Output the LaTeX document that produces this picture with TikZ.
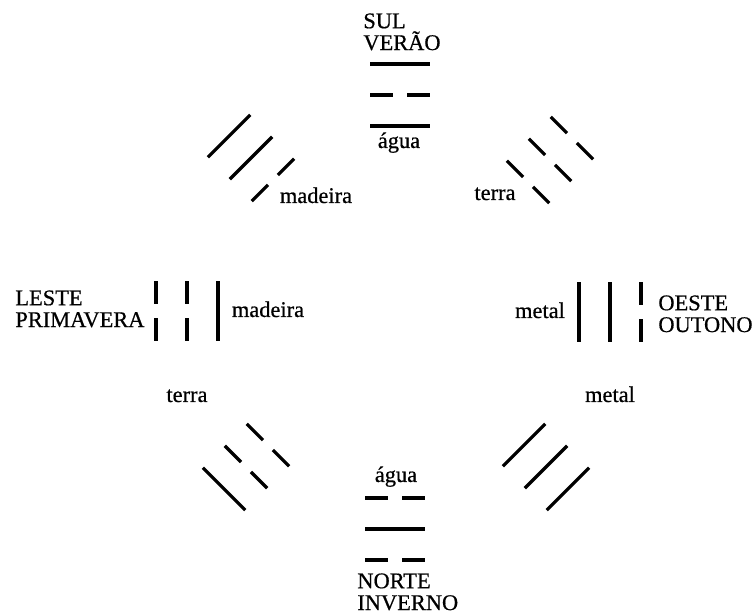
\documentclass[tikz,border=0pt]{standalone}
\usepackage{fontspec}
\setmainfont{Liberation Serif}[FakeBold=0.6]
\tikzset{stroke/.style = {line width=1.6pt},
         word/.style = {inner sep=0pt, font=\fontsize{11.2}{10.9}\selectfont}}

\begin{document}
\begin{tikzpicture}[x=0.5pt, y=-0.5pt]
    \useasboundingbox (0,0) rectangle (755,613);

    % trigrams: centre, turn, and the gap of each line (0 = whole, 7 = broken)
    \foreach \X/\Y/\Angle/\GapA/\GapB/\GapC in {%
        400/95/0/0/7/0,
        395/529/0/7/0/7,
        187/311/90/7/7/0,
        610/312/90/0/0/7,
        251/158/45/0/0/7,
        550/160/-45/7/7/7,
        246/467/-45/7/7/0,
        546/467/45/0/0/0%
        }
        {
        \begin{scope}[shift={(\X,\Y)}, rotate=\Angle]
            \foreach \Pos/\Gap in {-31/\GapA, 0/\GapB, 31/\GapC}
                \draw[stroke] (-30,\Pos) -- (-\Gap,\Pos)
                              (\Gap,\Pos) -- (30,\Pos);
        \end{scope}
        }

    % quarters and seasons
    \node (sul)   [word, anchor=north west, align=left] at (363,13)  {SUL\\VERÃO};
    \node (norte) [word, anchor=north west, align=left] at (357,573) {NORTE\\INVERNO};
    \node (leste) [word, anchor=north west, align=left] at (15,290)  {LESTE\\PRIMAVERA};
    \node (oeste) [word, anchor=north west, align=left] at (658,295) {OESTE\\OUTONO};

    % elements
    \foreach \Name/\X/\Y/\Label in {%
        aguaS/399/148/água,
        madeiraSE/316/203/madeira,
        terraSW/495/200/terra,
        madeiraE/268/317/madeira,
        metalW/540/318/metal,
        terraNE/187/402/terra,
        metalNW/610/402/metal,
        aguaN/396/482/água%
        }
        \node (\Name) [word, anchor=base] at (\X,\Y) {\Label};
\end{tikzpicture}
\end{document}
